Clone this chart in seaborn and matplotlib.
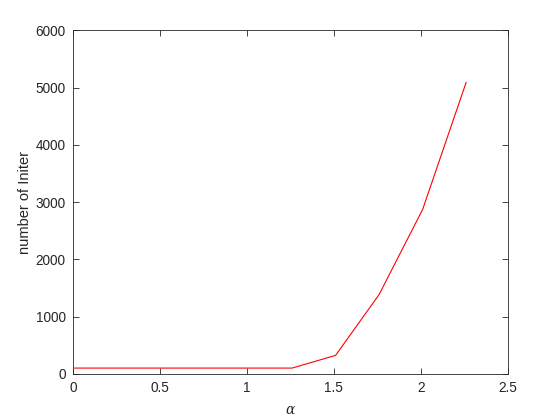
import pandas as pd
import matplotlib
matplotlib.use("Agg")
import matplotlib.pyplot as plt
import seaborn as sns

# valores
alpha_vals = [0.01, 0.26, 0.51, 0.76, 1.01, 1.26, 1.51, 1.76, 2.01, 2.26]
n_iter = [100, 100, 100, 100, 100, 100, 322, 1385, 2870, 5090]

df = pd.DataFrame({'alpha': alpha_vals, 'iter': n_iter})

sns.set_style("ticks")
plt.rcParams['font.family'] = ['Liberation Sans', 'DejaVu Sans']
plt.rcParams['mathtext.fontset'] = 'dejavuserif'

fig = plt.figure(figsize=(5.6, 4.2), dpi=100)
ax = fig.add_axes([0.13, 0.11, 0.777, 0.818])

sns.lineplot(data=df, x='alpha', y='iter', color='#ff0000', linewidth=0.8, ax=ax)

ax.set_xlim(0, 2.5)
ax.set_ylim(0, 6000)
ax.set_xticks([0, 0.5, 1, 1.5, 2, 2.5])
ax.set_xticklabels(['0', '0.5', '1', '1.5', '2', '2.5'])
ax.set_yticks([0, 1000, 2000, 3000, 4000, 5000, 6000])

ax.set_xlabel(r'$\alpha$', fontsize=10, color='#262626', labelpad=6)
ax.set_ylabel('number of Initer', fontsize=10.5, color='#262626', labelpad=3)

ax.tick_params(direction='in', length=4, width=0.6, top=True, right=True,
               labelsize=9.8, colors='#262626', pad=5)
for s in ax.spines.values():
    s.set_visible(True)
    s.set_linewidth(0.6)
    s.set_color('#262626')

fig.savefig('out.png', dpi=100, facecolor='white')
